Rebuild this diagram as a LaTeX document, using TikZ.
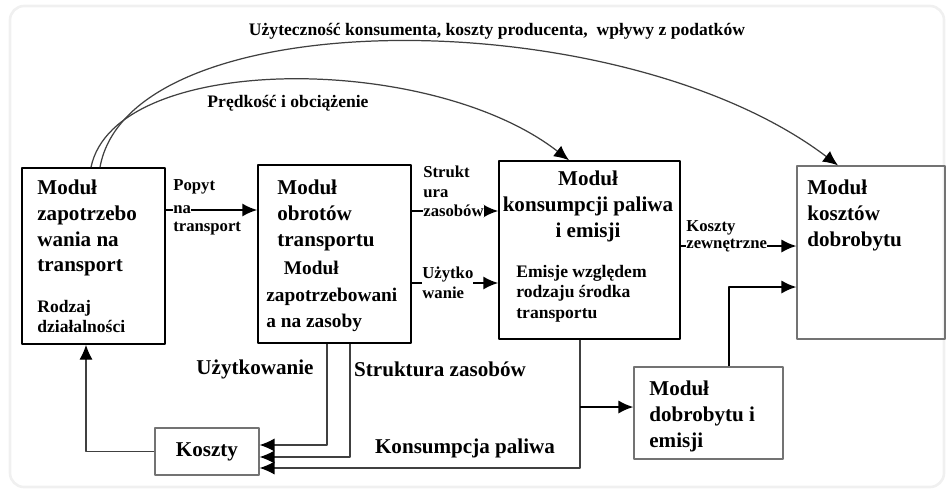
\documentclass[tikz,border=0pt]{standalone}
\usepackage{fontspec}
\setmainfont{Liberation Serif}
\usetikzlibrary{arrows.meta}
\tikzset{
	modul/.style={draw,line width=0.9pt,inner sep=0pt},
	modulg/.style={draw=black!55,line width=0.7pt,inner sep=0pt},
	tekst/.style={inner sep=0pt,align=left,font=\bfseries\fontsize{12}{14.6}\selectfont},
	etyk/.style={inner sep=0pt,align=left,font=\bfseries\fontsize{9.5}{11.5}\selectfont},
	gruba/.style={line width=1.1pt},
	cienka/.style={line width=0.7pt,black!75},
}
\begin{document}
\begin{tikzpicture}[x=0.02cm,y=-0.02cm,line join=round,>={Latex[length=8.5pt,width=7.5pt,color=black]}]
	\useasboundingbox (0,0) rectangle (950,491);
	\draw[black!6,line width=1.5pt,rounded corners=8pt] (10,6) rectangle (944,487);
	% bloki
	\node[modul,minimum width=2.86cm,minimum height=3.52cm] (A) at (93.5,256) {};
	\node[modul,minimum width=3.06cm,minimum height=3.56cm] (B) at (334.5,254) {};
	\node[modul,minimum width=3.62cm,minimum height=3.56cm] (C) at (589.5,250) {};
	\node[modulg,minimum width=2.96cm,minimum height=3.46cm] (D) at (871,252.5) {};
	\node[modulg,tekst,minimum width=2.08cm,minimum height=0.94cm] (K) at (207,451.5) {Koszty};
	\node[modulg,minimum width=2.98cm,minimum height=1.84cm] (E) at (708.5,413) {};
	% teksty w blokach
	\node[tekst,anchor=north west] (At) at (37,180) {Moduł\\zapotrzebo\\wania na\\transport};
	\node[tekst,anchor=north west,font=\bfseries\fontsize{10}{11.5}\selectfont] (Ar) at (37,300) {Rodzaj\\działalności};
	\node[tekst,anchor=north west] (Bt) at (277,180) {Moduł\\obrotów\\transportu};
	\node[tekst,anchor=north west,font=\bfseries\fontsize{11}{15}\selectfont] (Bz) at (266,261) {\hspace*{10pt}Moduł\\zapotrzebowani\\a na zasoby};
	\node[tekst,anchor=north,align=center] (Ct) at (588,171) {Moduł\\konsumpcji paliwa\\i emisji};
	\node[tekst,anchor=north west,font=\bfseries\fontsize{10}{11.6}\selectfont] (Ce) at (516,265) {Emisje względem\\rodzaju środka\\transportu};
	\node[tekst,anchor=north west] (Dt) at (807,180) {Moduł\\kosztów\\dobrobytu};
	\node[tekst,anchor=north west] (Et) at (649,381) {Moduł\\dobrobytu i\\emisji};
	% strzalki miedzy blokami
	\coordinate (pa) at (173,210);
	\coordinate (sz) at (423,211);
	\coordinate (uw) at (422,283);
	\coordinate (kz) at (686,246);
	\draw[gruba,->] (A.east |- pa) -- (B.west |- pa);
	\draw[gruba,->] (B.east |- sz) -- (C.west |- sz);
	\draw[gruba,->] (B.east |- uw) -- (C.west |- uw);
	\draw[gruba,->] (C.east |- kz) -- (D.west |- kz);
	\node[etyk,anchor=west] (po) at (173,187) {Popyt};
	\node[etyk,anchor=west,fill=white] (na) at (pa) {na};
	\node[etyk,anchor=west] (tr) at (173,229) {transport};
	\node[etyk,anchor=west] (st) at (423,182) {Strukt\\ura};
	\node[etyk,anchor=west,fill=white] (za) at (sz) {zasobów};
	\node[etyk,anchor=west,fill=white] (ui) at (uw) {Użytko\\wanie};
	\node[etyk,anchor=west] (ko) at (686,228) {Koszty};
	\node[etyk,anchor=west,fill=white] (ze) at (kz) {zewnętrzne};
	% dobrobyt i emisje
	\coordinate (dk) at (729,287);
	\draw[gruba,->] (E.north -| dk) -- (dk) -- (D.west |- dk);
	\coordinate (cb) at (580,468);
	\coordinate (cd) at (580,407);
	\draw[cienka,->] (C.south -| cb) -- (cb) -- (K.east |- cb);
	\draw[gruba,->] (cd) -- (E.west |- cd);
	% koszty
	\coordinate (bu) at (327,445);
	\coordinate (bs) at (350,457);
	\coordinate (ka) at (86,451.5);
	\draw[cienka,->] (B.south -| bu) -- (bu) -- (K.east |- bu);
	\draw[cienka,->] (B.south -| bs) -- (bs) -- (K.east |- bs);
	\draw[cienka,->] (K.west) -- (ka) -- (A.south -| ka);
	\node[tekst] (uz) at (255,369) {Użytkowanie};
	\node[tekst] (sk) at (440,369) {Struktura zasobów};
	\node[tekst] (kp) at (465,448) {Konsumpcja paliwa};
	% luki u gory
	\draw[cienka,->] ([xshift=0.13cm]A.north) .. controls (130,0) and (620,0) .. ([xshift=-0.66cm]D.north);
	\draw[cienka,->] ([xshift=-0.05cm]A.north) .. controls (115,52) and (430,52) .. ([xshift=-0.41cm]C.north);
	\node[etyk,font=\bfseries\fontsize{10}{12}\selectfont] (ut) at (497,31) {Użyteczność konsumenta, koszty producenta,\ \ wpływy z podatków};
	\node[etyk,font=\bfseries\fontsize{10}{12}\selectfont] (pr) at (288,103) {Prędkość i obciążenie};
\end{tikzpicture}
\end{document}
